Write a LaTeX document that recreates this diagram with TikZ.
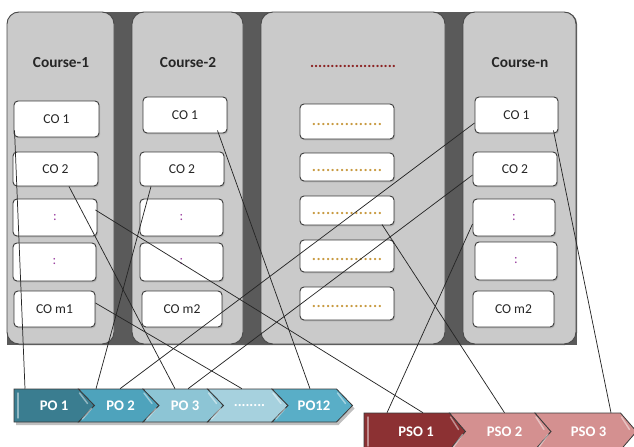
\documentclass[tikz,border=0pt]{standalone}
\usepackage{fontspec}
\setmainfont{Carlito}
\usetikzlibrary{calc,shadows}
\newcommand\pxu{0.75pt}
\definecolor{bgdark}{HTML}{5A5A5A}
\definecolor{colfill}{HTML}{CACACA}
\definecolor{coledge}{HTML}{4A4A4A}
\definecolor{boxedge}{HTML}{3C3C3C}
\definecolor{chevedge}{HTML}{3A3A3A}
\definecolor{poA}{HTML}{3A7D90}
\definecolor{poB}{HTML}{4EA3BC}
\definecolor{poC}{HTML}{8DC5D5}
\definecolor{poD}{HTML}{A6D1DE}
\definecolor{poE}{HTML}{59AEC7}
\definecolor{psoA}{HTML}{8C3133}
\definecolor{psoB}{HTML}{D49090}
\definecolor{dotred}{HTML}{8B2323}
\definecolor{dotcol}{HTML}{C89A40}
\definecolor{colonc}{HTML}{9A3FA0}
% chevron: L, width, top, bottom, notch depth, fill
\newcommand\mychev[6]{%
  \filldraw[chev, fill=#6] (#1,#3) -- ({#1+#2},#3) -- ({#1+#2+16},{(#3+#4)/2}) -- ({#1+#2},#4) -- (#1,#4) -- ({#1+#5},{(#3+#4)/2}) -- cycle;
  \draw[hl] ({#1+#2+1},{#3+4}) -- ({#1+#2+9},{(#3+#4)/2-2});
}
\newcommand\mynotch[3]{% L, bottom, mid
  \draw[hl] ({#1+4},{#2-3}) -- ({#1+13},{#3+3});
}
\begin{document}
\begin{tikzpicture}[x=0.75pt,y=-0.75pt,
  conn/.style={draw=black!85, line width=0.55pt},
  colbox/.style={draw=coledge, fill=colfill, rounded corners=9pt, line width=0.7pt, inner sep=0pt},
  cobox/.style={draw=boxedge, fill=white, rounded corners=3pt, line width=0.7pt, inner sep=0pt,
    drop shadow={shadow xshift=0.8pt, shadow yshift=-1pt, opacity=.35},
    font=\fontsize{10.2}{12}\selectfont, text=black!85},
  colonbox/.style={cobox, text=colonc},
  dotbox/.style={cobox, font=\fontsize{14}{16}\selectfont, text=dotcol},
  head/.style={font=\bfseries\fontsize{11.5}{14}\selectfont, text=black!85},
  potext/.style={font=\bfseries\fontsize{11}{13}\selectfont, text=white, minimum height=33*\pxu, inner sep=0pt},
  psotext/.style={potext, minimum height=37*\pxu},
  chev/.style={draw=chevedge, line width=0.6pt, line join=miter},
  hl/.style={draw=white, opacity=.45, line width=1.1pt, line cap=round},
]
\useasboundingbox (0,0) rectangle (634,446);
\clip (0,0) rectangle (634,446);

% dark background
\fill[bgdark, rounded corners=9pt] (7,12) rectangle (577,345);
\fill[bgdark] (7,200) rectangle (577,345);

% columns
\node[colbox, minimum width=107*\pxu, minimum height=332*\pxu] (col1) at (60.5,178) {};
\node[colbox, minimum width=111*\pxu, minimum height=332*\pxu] (col2) at (187.5,178) {};
\node[colbox, minimum width=184*\pxu, minimum height=332*\pxu] (col3) at (353,178) {};
\node[colbox, minimum width=113*\pxu, minimum height=332*\pxu] (col4) at (519.5,178) {};

% headers
\node[head] (h1) at (61,63) {Course-1};
\node[head] (h2) at (188,63) {Course-2};
\node[head, text=dotred] (h3) at (353,63.5) {\strut.....................};
\node[head] (h4) at (520,63) {Course-n};

% column 1 boxes
\node[cobox, minimum width=85*\pxu, minimum height=36*\pxu] (c1o1) at (56.5,119) {CO 1};
\node[cobox, minimum width=85*\pxu, minimum height=34*\pxu] (c1o2) at (55.5,169) {CO 2};
\node[colonbox, minimum width=84*\pxu, minimum height=37*\pxu] (c1c1) at (55,217.5) {:};
\node[colonbox, minimum width=83*\pxu, minimum height=38*\pxu] (c1c2) at (54.5,262) {:};
\node[cobox, minimum width=81*\pxu, minimum height=36*\pxu] (c1om) at (54.5,309) {CO m1};

% column 2 boxes
\node[cobox, minimum width=84*\pxu, minimum height=36*\pxu] (c2o1) at (185,115) {CO 1};
\node[cobox, minimum width=84*\pxu, minimum height=34*\pxu] (c2o2) at (182,169) {CO 2};
\node[colonbox, minimum width=83*\pxu, minimum height=37*\pxu] (c2c1) at (181.5,217.5) {:};
\node[colonbox, minimum width=83*\pxu, minimum height=38*\pxu] (c2c2) at (181.5,262) {:};
\node[cobox, minimum width=80*\pxu, minimum height=36*\pxu] (c2om) at (182,309) {CO m2};

% column 3 boxes
\node[dotbox, minimum width=94*\pxu, minimum height=35*\pxu] (c3b1) at (347,121.5) {\strut...............};
\node[dotbox, minimum width=94*\pxu, minimum height=28*\pxu] (c3b2) at (347,167) {\strut...............};
\node[dotbox, minimum width=94*\pxu, minimum height=29*\pxu] (c3b3) at (347,210.5) {\strut...............};
\node[dotbox, minimum width=94*\pxu, minimum height=32*\pxu] (c3b4) at (347,256) {\strut...............};
\node[dotbox, minimum width=94*\pxu, minimum height=33*\pxu] (c3b5) at (347,303.5) {\strut...............};

% column 4 boxes
\node[cobox, minimum width=83*\pxu, minimum height=36*\pxu] (c4o1) at (516.5,115) {CO 1};
\node[cobox, minimum width=84*\pxu, minimum height=34*\pxu] (c4o2) at (515,169) {CO 2};
\node[colonbox, minimum width=82*\pxu, minimum height=37*\pxu] (c4c1) at (514,217.5) {:};
\node[colonbox, minimum width=82*\pxu, minimum height=38*\pxu] (c4c2) at (516,261) {:};
\node[cobox, minimum width=81*\pxu, minimum height=36*\pxu] (c4om) at (513.5,309) {CO m2};

% PO bar
\fill[black, opacity=.25] (16,392) -- (338.5,392) -- (354.5,408.5) -- (338.5,425) -- (16,425) -- cycle;
\mychev{14}{64.5}{389}{422}{0}{poA}
\mychev{78.5}{64.5}{389}{422}{16}{poB}
\mychev{143}{64.5}{389}{422}{16}{poC}
\mychev{207.5}{64.5}{389}{422}{16}{poD}
\mychev{272}{64.5}{389}{422}{16}{poE}
\draw[hl] (18,393) -- (18,418);
\mynotch{78.5}{422}{405.5}
\mynotch{143}{422}{405.5}
\mynotch{207.5}{422}{405.5}
\mynotch{272}{422}{405.5}
\node[potext] (po1) at (54,405.5) {PO 1};
\node[potext] (po2) at (120.5,405.5) {PO 2};
\node[potext] (po3) at (185,405.5) {PO 3};
\node[potext] (pdots) at (249.5,405.5) {........};
\node[potext] (po12) at (314,405.5) {PO12};

% PSO bar
\fill[black, opacity=.25] (366,416) -- (537,416) -- (553,435) -- (537,453) -- (366,453) -- cycle;
\mychev{364}{85.5}{413}{450}{0}{psoA}
\mychev{449.5}{85.5}{413}{450}{16}{psoB}
\mychev{535}{85.5}{413}{450}{16}{psoB}
\draw[hl] (368,417) -- (368,446);
\mynotch{449.5}{450}{431.5}
\mynotch{535}{450}{431.5}
\node[psotext] (pso1) at (416,431.5) {PSO 1};
\node[psotext] (pso2) at (504.5,431.5) {PSO 2};
\node[psotext] (pso3) at (588.5,431.5) {PSO 3};

% connectors
\draw[conn] ($(c1o1.south west)+(1,-7)$) -- ($(po1.north)+(-29,0)$);
\draw[conn] ($(c1o2.south)+(13.5,0)$) -- ($(po3.north)+(-10,0)$);
\draw[conn] ($(c1c1.east)+(-2,-7.5)$) -- ($(pso1.north)+(7,0)$);
\draw[conn] ($(c1om.east)+(0,-6)$) -- ($(pdots.north)+(-7.5,0)$);
\draw[conn] ($(c2o2.south)+(-31,0)$) -- ($(po2.north)+(-24.5,0)$);
\draw[conn] ($(c2o1.south east)+(-10,-3)$) -- ($(po12.north)+(-4,0)$);
\draw[conn] ($(c3b3.south)+(35,-1)$) -- (pso2.north);
\draw[conn] ($(c4o1.west)+(0,8)$) -- ($(po2.north)+(-0.5,0)$);
\draw[conn] ($(c4o2.west)+(0,6)$) -- ($(po3.north)+(3,0)$);
\draw[conn] ($(c4c1.west)+(0,6.5)$) -- ($(pso1.north)+(-29,0)$);
\draw[conn] ($(c4o1.south east)+(-5,-3)$) -- ($(pso3.north)+(22.5,0)$);
\end{tikzpicture}
\end{document}
